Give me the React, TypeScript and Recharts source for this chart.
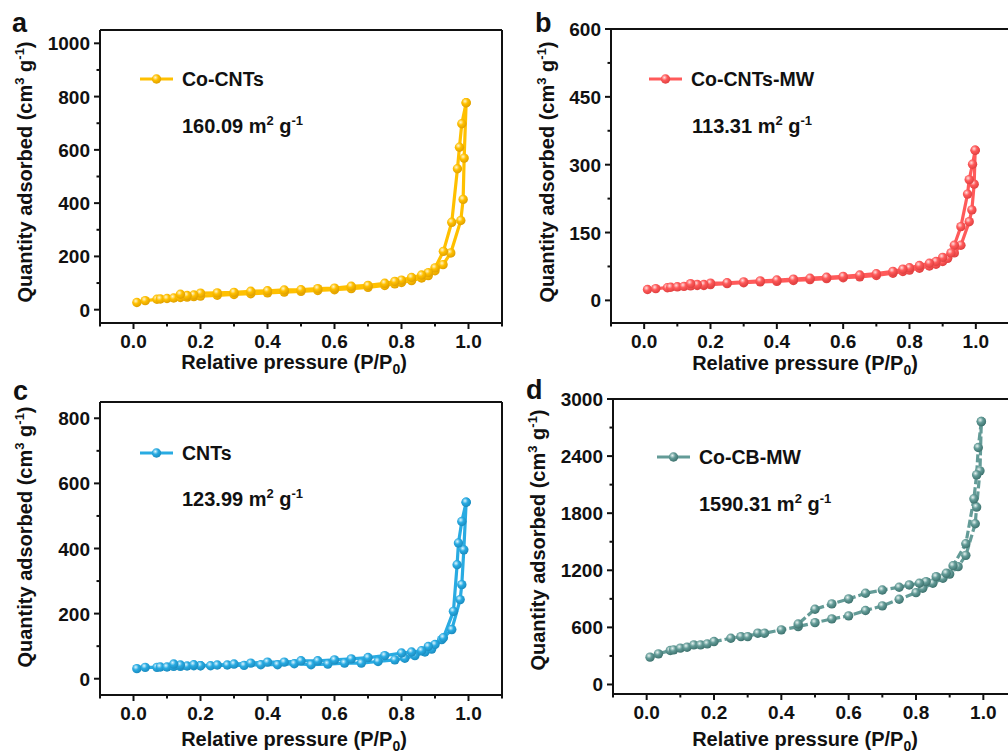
import { LineChart, Line, XAxis, YAxis, ReferenceLine, Legend } from "recharts";

const FONT = '"Liberation Sans", Arial, Helvetica, sans-serif';
const INK = "#111111";

// relative pressure axis (shared)
const pressureTicks = [-0.1, 0, 0.1, 0.2, 0.3, 0.4, 0.5, 0.6, 0.7, 0.8, 0.9, 1.0, 1.1];
const pressureMajor = [0, 0.2, 0.4, 0.6, 0.8, 1.0];

// a: Co-CNTs
const coCntsAdsP = [0.01, 0.035, 0.07, 0.08, 0.1, 0.12, 0.14, 0.16, 0.18, 0.2, 0.25, 0.3, 0.35, 0.4, 0.45, 0.5, 0.55, 0.6, 0.65, 0.7, 0.75, 0.78, 0.8, 0.83, 0.86, 0.88, 0.9, 0.924, 0.947, 0.977, 0.984, 0.987, 0.993];
const coCntsAdsQ = [27, 34, 39, 40, 42, 44, 46, 47, 49, 51, 54, 57, 60, 63, 66, 69, 72, 75, 79, 84, 91, 97, 102, 109, 119, 128, 146, 169, 213, 335, 414, 569, 777];
const coCntsDesP = [0.993, 0.98, 0.973, 0.967, 0.95, 0.925, 0.9, 0.88, 0.86, 0.83, 0.8, 0.78, 0.75, 0.7, 0.65, 0.6, 0.55, 0.5, 0.45, 0.4, 0.35, 0.3, 0.25, 0.2, 0.18, 0.16, 0.14];
const coCntsDesQ = [777, 698, 610, 529, 328, 219, 157, 139, 130, 121, 111, 106, 99, 91, 88, 81, 79, 75, 74, 71, 69, 65, 63, 62, 55, 53, 58];
const coCntsTicks = [0, 100, 200, 300, 400, 500, 600, 700, 800, 900, 1000];
const coCntsMajor = [0, 200, 400, 600, 800, 1000];

// b: Co-CNTs-MW
const mwAdsP = [0.01, 0.035, 0.07, 0.08, 0.1, 0.12, 0.14, 0.16, 0.18, 0.2, 0.25, 0.3, 0.35, 0.4, 0.45, 0.5, 0.55, 0.6, 0.65, 0.7, 0.75, 0.78, 0.8, 0.83, 0.86, 0.88, 0.9, 0.915, 0.935, 0.955, 0.98, 0.988, 0.995, 0.998];
const mwAdsQ = [24, 26, 28, 29, 30, 31, 32, 33, 33, 35, 37, 39, 41, 42, 44, 46, 48, 50, 52, 55, 60, 64, 67, 71, 76, 80, 86, 93, 105, 122, 174, 200, 257, 332];
const mwDesP = [0.998, 0.99, 0.98, 0.975, 0.955, 0.935, 0.925, 0.9, 0.88, 0.86, 0.83, 0.8, 0.78, 0.75, 0.7, 0.65, 0.6, 0.55, 0.5, 0.45, 0.4, 0.35, 0.3, 0.25, 0.2, 0.18, 0.16, 0.14];
const mwDesQ = [332, 301, 267, 235, 163, 122, 105, 95, 86, 82, 77, 72, 69, 64, 59, 56, 53, 51, 49, 47, 45, 43, 41, 39, 38, 35, 35, 37];
const mwTicks = [0, 75, 150, 225, 300, 375, 450, 525, 600];
const mwMajor = [0, 150, 300, 450, 600];

// c: CNTs
const cntAdsP = [0.01, 0.035, 0.07, 0.08, 0.1, 0.12, 0.14, 0.16, 0.18, 0.2, 0.23, 0.28, 0.33, 0.38, 0.43, 0.48, 0.53, 0.58, 0.63, 0.68, 0.73, 0.78, 0.81, 0.84, 0.87, 0.89, 0.92, 0.95, 0.975, 0.98, 0.986, 0.993];
const cntAdsQ = [31, 35, 35, 36, 36, 38, 38, 39, 40, 40, 40, 42, 41, 43, 43, 46, 43, 45, 48, 48, 53, 58, 63, 71, 82, 91, 120, 151, 243, 289, 396, 542];
const cntDesP = [0.993, 0.98, 0.97, 0.966, 0.955, 0.925, 0.9, 0.88, 0.86, 0.83, 0.8, 0.75, 0.7, 0.65, 0.6, 0.55, 0.5, 0.45, 0.4, 0.35, 0.3, 0.25, 0.2, 0.18, 0.14, 0.12];
const cntDesQ = [542, 483, 417, 350, 207, 126, 105, 99, 86, 82, 79, 71, 65, 61, 58, 55, 55, 51, 51, 48, 45, 42, 40, 43, 42, 45];
const cntTicks = [0, 100, 200, 300, 400, 500, 600, 700, 800];
const cntMajor = [0, 200, 400, 600, 800];

// d: Co-CB-MW
const cbAdsP = [0.01, 0.035, 0.07, 0.08, 0.1, 0.12, 0.14, 0.16, 0.18, 0.2, 0.25, 0.28, 0.3, 0.33, 0.35, 0.4, 0.45, 0.5, 0.55, 0.6, 0.65, 0.7, 0.75, 0.8, 0.82, 0.85, 0.88, 0.9, 0.925, 0.948, 0.976, 0.98, 0.99, 0.994];
const cbAdsQ = [287, 322, 357, 364, 382, 392, 416, 416, 427, 451, 486, 503, 503, 539, 539, 574, 608, 650, 689, 721, 777, 826, 896, 965, 1011, 1064, 1116, 1160, 1238, 1357, 1689, 1864, 2245, 2763];
const cbDesP = [0.994, 0.985, 0.98, 0.972, 0.948, 0.91, 0.89, 0.86, 0.83, 0.81, 0.78, 0.75, 0.7, 0.65, 0.6, 0.55, 0.5, 0.45];
const cbDesQ = [2763, 2490, 2203, 1951, 1479, 1248, 1169, 1133, 1081, 1064, 1046, 1022, 993, 959, 899, 847, 791, 636];
const cbTicks = [0, 300, 600, 900, 1200, 1500, 1800, 2100, 2400, 2700, 3000];
const cbMajor = [0, 600, 1200, 1800, 2400, 3000];

const toPoints = (p: number[], q: number[], key: string) =>
  p.map((v, i) => ({ p: v, [key]: q[i] }));

const renderXTick = (props: any) => {
  const { x, y, payload } = props;
  const major = pressureMajor.includes(payload.value);
  return (
    <g>
      <line x1={x} y1={y} x2={x} y2={y + (major ? 6 : 3.5)} stroke={INK} strokeWidth={2} />
      {major && (
        <text x={x} y={y + 25} textAnchor="middle" fontFamily={FONT} fontWeight={700} fontSize={19} fill={INK}>
          {payload.value.toFixed(1)}
        </text>
      )}
    </g>
  );
};

const makeYTick = (majors: number[]) => (props: any) => {
  const { x, y, payload } = props;
  const major = majors.includes(payload.value);
  return (
    <g>
      <line x1={x} y1={y} x2={x - (major ? 6 : 3.5)} y2={y} stroke={INK} strokeWidth={2} />
      {major && (
        <text x={x - 10} y={y + 7} textAnchor="end" fontFamily={FONT} fontWeight={700} fontSize={19} fill={INK}>
          {payload.value}
        </text>
      )}
    </g>
  );
};

type PanelProps = {
  id: string;
  name: string;
  color: string;
  light: string;
  dark: string;
  dashed?: boolean;
  ads: any[];
  des: any[];
  yDomain: [number, number];
  yTicks: number[];
  yMajor: number[];
  plot: { x: number; y: number; w: number; h: number };
  legend: { x: number; y: number };
};

function Panel({ id, name, color, light, dark, dashed, ads, des, yDomain, yTicks, yMajor, plot, legend }: PanelProps) {
  const left = plot.x - 100;
  const top = plot.y - 30;
  const ball = `url(#ball-${id})`;
  const dash = dashed ? "8 3" : undefined;
  const dot = (props: any) => (
    <circle key={`${id}-${props.index}`} cx={props.cx} cy={props.cy} r={4.7} fill={ball} />
  );
  const legendContent = () => (
    <div style={{ display: "flex", alignItems: "center", height: 24, fontFamily: FONT, fontWeight: 700, fontSize: 19.5, color: INK, whiteSpace: "nowrap" }}>
      <svg width={34} height={24}>
        <line x1={0} y1={12} x2={33} y2={12} stroke={color} strokeWidth={3.2} />
        <circle cx={16.5} cy={12} r={4.7} fill={ball} />
      </svg>
      <span style={{ marginLeft: 8 }}>{name}</span>
    </div>
  );
  return (
    <div style={{ position: "absolute", left, top }}>
      <LineChart width={plot.w + 120} height={plot.h + 100} margin={{ top: 30, right: 20, bottom: 30, left: 40 }}>
        <defs>
          <radialGradient id={`ball-${id}`} cx="38%" cy="34%" r="66%">
            <stop offset="0%" stopColor={light} />
            <stop offset="45%" stopColor={color} />
            <stop offset="100%" stopColor={dark} />
          </radialGradient>
        </defs>
        <XAxis
          dataKey="p"
          type="number"
          domain={[-0.1, 1.1]}
          ticks={pressureTicks}
          interval={0}
          allowDataOverflow
          height={40}
          tickSize={0}
          tickMargin={0}
          tickLine={false}
          axisLine={{ stroke: INK, strokeWidth: 2 }}
          tick={renderXTick}
        />
        <YAxis
          type="number"
          domain={yDomain}
          ticks={yTicks}
          interval={0}
          allowDataOverflow
          width={60}
          tickSize={0}
          tickMargin={0}
          tickLine={false}
          axisLine={{ stroke: INK, strokeWidth: 2 }}
          tick={makeYTick(yMajor)}
        />
        <ReferenceLine y={yDomain[1]} stroke={INK} strokeWidth={2} />
        <ReferenceLine x={1.1} stroke={INK} strokeWidth={2} />
        <Legend
          layout="horizontal"
          verticalAlign="middle"
          align="center"
          wrapperStyle={{ left: legend.x - left, top: legend.y - top - 12, width: "auto", height: 24 }}
          content={legendContent}
        />
        <Line
          data={ads}
          dataKey="ads"
          name={name}
          type="linear"
          stroke={color}
          strokeWidth={3.2}
          strokeDasharray={dash}
          dot={dot}
          activeDot={false}
          isAnimationActive={false}
        />
        <Line
          data={des}
          dataKey="des"
          name={`${name} desorption`}
          type="linear"
          stroke={color}
          strokeWidth={3.2}
          strokeDasharray={dash}
          dot={dot}
          activeDot={false}
          isAnimationActive={false}
          legendType="none"
        />
      </LineChart>
    </div>
  );
}

const textStyle = { fontFamily: FONT, fontWeight: 700, fill: INK } as const;

function XTitle({ x, y }: { x: number; y: number }) {
  return (
    <text x={x} y={y} textAnchor="middle" fontSize={20} {...textStyle}>
      Relative pressure (P/P<tspan dy={5} fontSize={14}>0</tspan>
      <tspan dy={-5}>)</tspan>
    </text>
  );
}

function YTitle({ x, y }: { x: number; y: number }) {
  return (
    <text x={x} y={y} textAnchor="middle" fontSize={20} transform={`rotate(-90 ${x} ${y})`} {...textStyle}>
      Quantity adsorbed (cm<tspan dy={-8} fontSize={13}>3</tspan>
      <tspan dy={8}> g</tspan>
      <tspan dy={-8} fontSize={13}>-1</tspan>
      <tspan dy={8}>)</tspan>
    </text>
  );
}

function Bet({ x, y, value }: { x: number; y: number; value: string }) {
  return (
    <text x={x} y={y} fontSize={20} {...textStyle}>
      {value} m<tspan dy={-8} fontSize={13}>2</tspan>
      <tspan dy={8}> g</tspan>
      <tspan dy={-8} fontSize={13}>-1</tspan>
    </text>
  );
}

export default function App() {
  return (
    <div style={{ position: "absolute", left: 0, top: 0, width: 1008, height: 756, overflow: "hidden", background: "#fff" }}>
      <Panel
        id="a"
        name="Co-CNTs"
        color="#FFC000"
        light="#FFF6D0"
        dark="#E0A000"
        ads={toPoints(coCntsAdsP, coCntsAdsQ, "ads")}
        des={toPoints(coCntsDesP, coCntsDesQ, "des")}
        yDomain={[-50, 1050]}
        yTicks={coCntsTicks}
        yMajor={coCntsMajor}
        plot={{ x: 100, y: 30, w: 402, h: 293 }}
        legend={{ x: 140, y: 79 }}
      />
      <Panel
        id="b"
        name="Co-CNTs-MW"
        color="#FF5A5A"
        light="#FFE0E0"
        dark="#E04040"
        ads={toPoints(mwAdsP, mwAdsQ, "ads")}
        des={toPoints(mwDesP, mwDesQ, "des")}
        yDomain={[-50, 600]}
        yTicks={mwTicks}
        yMajor={mwMajor}
        plot={{ x: 611, y: 29, w: 398, h: 294 }}
        legend={{ x: 649, y: 79 }}
      />
      <Panel
        id="c"
        name="CNTs"
        color="#29ABE2"
        light="#E0F6FF"
        dark="#1A8CC0"
        ads={toPoints(cntAdsP, cntAdsQ, "ads")}
        des={toPoints(cntDesP, cntDesQ, "des")}
        yDomain={[-50, 850]}
        yTicks={cntTicks}
        yMajor={cntMajor}
        plot={{ x: 100, y: 402, w: 402, h: 293 }}
        legend={{ x: 140, y: 453 }}
      />
      <Panel
        id="d"
        name="Co-CB-MW"
        color="#639B97"
        light="#E8F4F2"
        dark="#3E736F"
        dashed
        ads={toPoints(cbAdsP, cbAdsQ, "ads")}
        des={toPoints(cbDesP, cbDesQ, "des")}
        yDomain={[-100, 3000]}
        yTicks={cbTicks}
        yMajor={cbMajor}
        plot={{ x: 613, y: 399, w: 404, h: 295 }}
        legend={{ x: 657, y: 457 }}
      />
      <svg width={1008} height={756} style={{ position: "absolute", left: 0, top: 0, pointerEvents: "none" }}>
        <text x={12} y={32} fontSize={27} {...textStyle}>a</text>
        <text x={535} y={32} fontSize={27} {...textStyle}>b</text>
        <text x={13} y={400} fontSize={27} {...textStyle}>c</text>
        <text x={526} y={399} fontSize={27} {...textStyle}>d</text>
        <XTitle x={294} y={369} />
        <XTitle x={805} y={370} />
        <XTitle x={294} y={746} />
        <XTitle x={805} y={746} />
        <YTitle x={32} y={172} />
        <YTitle x={554} y={172} />
        <YTitle x={32} y={537} />
        <YTitle x={545} y={540} />
        <Bet x={182} y={133} value="160.09" />
        <Bet x={692} y={133} value="113.31" />
        <Bet x={182} y={506} value="123.99" />
        <Bet x={699} y={511} value="1590.31" />
      </svg>
    </div>
  );
}
